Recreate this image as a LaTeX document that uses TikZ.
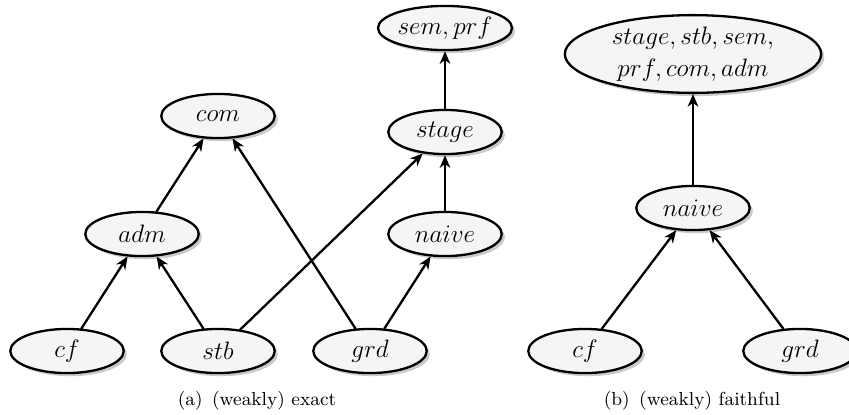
\documentclass[tikz,border=0pt]{standalone}
\usetikzlibrary{arrows.meta,shapes.geometric,shadows}

\begin{document}
\begin{tikzpicture}[line cap=round,line join=round,>={Stealth[length=6pt,width=5pt,inset=1.8pt]},x=0.476pt,y=-0.476pt,
		sembox/.style={ellipse,draw,line width=1.1pt,fill=gray!8,minimum width=54pt,minimum height=21pt,inner sep=0pt,
			font=\fontsize{11.5}{15.5}\selectfont,
			drop shadow={shadow xshift=1.5pt,shadow yshift=-1.5pt,fill=gray!70,opacity=0.6}},
		rel/.style={->,line width=1.1pt},
		capt/.style={font=\fontsize{9}{11}\selectfont}]
		\useasboundingbox (0,0) rectangle (849,414);
		% (a) (weakly) exact
		\node[sembox] (cfa) at (67,351) {$cf$};
		\node[sembox] (stba) at (218,351) {$stb$};
		\node[sembox] (grda) at (370,351) {$grd$};
		\node[sembox] (adma) at (142,234) {$adm$};
		\node[sembox] (coma) at (218,116) {$com$};
		\node[sembox] (naivea) at (445,234) {$naive$};
		\node[sembox] (stagea) at (445,132) {$stage$};
		\node[sembox] (semprfa) at (445,28) {$sem,prf$};
		\draw [rel] (cfa) -- (adma);
		\draw [rel] (stba) -- (adma);
		\draw [rel] (adma) -- (coma);
		\draw [rel] (grda) -- (coma);
		\draw [rel] (stba) -- (stagea);
		\draw [rel] (grda) -- (naivea);
		\draw [rel] (naivea) -- (stagea);
		\draw [rel] (stagea) -- (semprfa);
		\node[capt] (capa) at (257,401) {(a)\enspace(weakly) exact};
		% (b) (weakly) faithful
		\node[sembox,minimum width=122pt,minimum height=37pt,align=center] (allb) at (693,54) {$stage,stb,sem,$\\$prf,com,adm$};
		\node[sembox] (naiveb) at (693,208) {$naive$};
		\node[sembox] (cfb) at (585,351) {$cf$};
		\node[sembox] (grdb) at (800,351) {$grd$};
		\draw [rel] (cfb) -- (naiveb);
		\draw [rel] (grdb) -- (naiveb);
		\draw [rel] (naiveb) -- (allb);
		\node[capt] (capb) at (692,401) {(b)\enspace(weakly) faithful};
	\end{tikzpicture}
\end{document}
